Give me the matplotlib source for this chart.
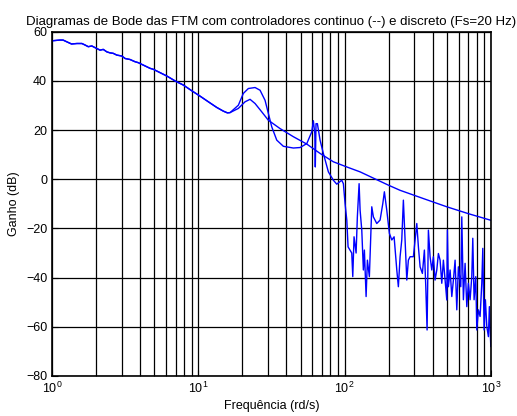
import matplotlib
matplotlib.use("Agg")
import matplotlib.pyplot as plt
from matplotlib.ticker import LogLocator

plt.rcParams['font.family'] = ['Liberation Sans', 'DejaVu Sans']
plt.rcParams['mathtext.default'] = 'regular'

# low-frequency part shared by both closed-loop responses
w_common = [1.0, 1.13, 1.19, 1.26, 1.36, 1.48, 1.60, 1.68, 1.77, 1.87, 1.97,
            2.13, 2.24, 2.37, 2.49, 2.62, 2.77, 3.00, 3.16, 3.41, 3.69, 3.89,
            4.21, 4.68, 4.93, 6.08, 6.93, 7.90, 9.01, 10.27, 11.70, 13.36,
            14.82, 15.79, 16.47]
g_common = [56.3, 56.6, 56.6, 55.9, 55.0, 55.2, 55.2, 54.6, 53.9, 54.2, 53.5,
            52.5, 52.8, 51.8, 51.4, 51.2, 50.5, 50.1, 49.1, 48.7, 47.8, 47.4,
            46.4, 45.1, 44.7, 42.0, 40.0, 38.3, 36.0, 33.8, 31.5, 29.2,
            27.7, 27.0, 27.1]

# continuous controller
w_cont = [18.77, 20.86, 22.56, 24.41, 27.13, 30.09, 36.18, 44.6, 55.1, 67.9,
          83.7, 103.4, 127.5, 149.0, 199.0, 239.2, 350.6, 498.8, 700.6, 1000.0]
g_cont = [28.8, 31.5, 32.5, 30.8, 27.4, 24.0, 20.6, 17.3, 14.3, 10.5,
          7.1, 5.0, 3.0, 1.1, -2.4, -4.5, -8.0, -11.2, -14.0, -16.7]

# discrete controller, Fs = 20 Hz
w_disc = [18.77, 20.30, 21.97, 24.41, 26.41, 28.57, 30.09, 31.75, 34.35, 38.11,
          44.6, 49.6, 55.1, 59.6, 61.1, 62.5, 63.0, 63.7, 65.1, 67.9, 71.5,
          77.4, 83.7, 88.3, 95.5, 98.0, 100.6, 103.4, 105.5, 111.8, 113.6,
          115.9, 119.7, 122.1, 125.5, 127.5, 130.9, 134.2, 136.4, 140.1, 143.0,
          147.5, 153.2, 157.1, 165.7, 174.6, 182.2, 186.8, 194.0, 202.1, 209.9,
          217.7, 227.1, 232.8, 239.2, 245.6, 251.9, 258.8, 265.8, 272.5, 279.9,
          294.8, 302.8, 311.1, 319.1, 327.7, 339.8, 350.6, 358.4, 365.8, 373.4,
          383.5, 393.9, 403.9, 414.8, 426.1, 437.0, 448.9, 461.0, 472.8, 485.6,
          498.8, 503.5, 511.6, 525.4, 539.7, 553.4, 568.4, 583.8, 598.7, 621.7,
          631.6, 647.7, 665.2, 683.3, 700.6, 719.6, 739.1, 750.9, 766.4, 787.1,
          799.7, 820.2, 842.4, 865.2, 879.0, 897.2, 915.7, 936.2, 960.0, 975.0,
          996.8]
g_disc = [30.1, 34.9, 36.9, 37.3, 36.2, 32.1, 26.8, 21.3, 15.9, 13.4,
          12.7, 12.9, 14.5, 19.3, 23.8, 18.6, 5.0, 22.6, 22.6, 15.9, 10.5,
          3.0, -0.4, -2.0, -0.4, -1.8, -9.8, -16.6, -27.5, -30.0, -39.6,
          -23.4, -30.0, -15.3, -1.8, -12.6, -20.7, -36.9, -28.8, -47.7, -32.9,
          -39.6, -11.2, -15.3, -18.0, -16.6, -9.9, -5.1, -12.6, -22.0, -24.7,
          -23.4, -36.9, -43.7, -31.5, -24.7, -8.5, -24.7, -41.0, -32.9, -31.5,
          -31.5, -24.7, -18.0, -27.5, -35.6, -38.3, -28.8, -43.7, -61.3, -20.7,
          -31.5, -36.9, -31.5, -41.0, -36.9, -30.2, -32.9, -42.3, -32.9, -41.0,
          -49.1, -20.7, -43.7, -36.9, -47.7, -41.0, -32.9, -53.1, -35.6, -43.7,
          -15.3, -49.0, -34.2, -51.8, -42.3, -49.0, -39.6, -24.0, -49.0, -39.6,
          -61.3, -53.1, -55.8, -42.3, -28.1, -61.3, -49.0, -59.9, -64.0, -51.8,
          -68.0]

fig = plt.figure(figsize=(5.17, 4.16), dpi=100)
ax = fig.add_axes([0.1006, 0.0962, 0.8491, 0.8276])

ax.semilogx(w_common + w_cont, g_common + g_cont, color='#0000ff', lw=1.0)
ax.semilogx(w_common + w_disc, g_common + g_disc, color='#0000ff', lw=1.0)

ax.set_xlim(1, 1000)
ax.set_ylim(-80, 60)
ax.set_yticks(range(-80, 61, 20))
ax.xaxis.set_minor_locator(LogLocator(base=10, subs=range(2, 10)))
ax.grid(True, which='both', axis='x', color='black', lw=0.9, ls='-')
ax.grid(True, which='major', axis='y', color='black', lw=0.9, ls='-')
ax.tick_params(which='both', direction='in', labelsize=9, length=4)
ax.tick_params(which='minor', length=2)
for s in ax.spines.values():
    s.set_linewidth(1.2)

ax.set_title('Diagramas de Bode das FTM com controladores continuo (--) e discreto (Fs=20 Hz)',
             fontsize=9.5, pad=5)
ax.set_xlabel('Frequência (rd/s)', fontsize=9, labelpad=3)
ax.set_ylabel('Ganho (dB)', fontsize=9)

fig.savefig('out.png', dpi=100)
